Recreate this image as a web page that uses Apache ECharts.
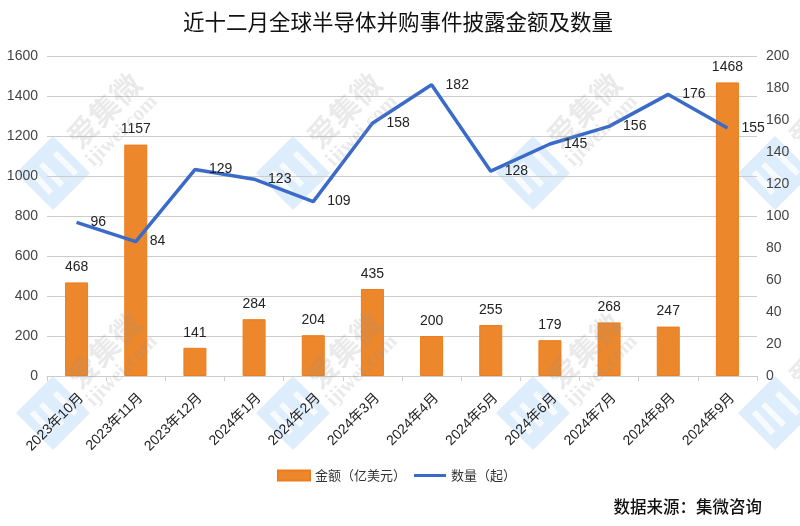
<!DOCTYPE html>
<html>
<head>
<meta charset="utf-8">
<style>html,body{margin:0;padding:0;background:#fff}#chart{width:800px;height:526px}</style>
<script src="https://cdn.jsdelivr.net/npm/echarts@6/dist/echarts.min.js"></script>
</head>
<body>
<div id="chart"></div>
<script>
var months = ['2023年10月','2023年11月','2023年12月','2024年1月','2024年2月','2024年3月','2024年4月','2024年5月','2024年6月','2024年7月','2024年8月','2024年9月'];
var amount = [468,1157,141,284,204,435,200,255,179,268,247,1468];
var count = [96,84,129,123,109,158,182,128,145,156,176,155];

var fontName = '"Liberation Sans","Noto Sans CJK SC",sans-serif';
var cjkName = '"Noto Sans CJK SC",sans-serif';

// white strokes inside the logo
function stroke(x1,y1,x2,y2){
	return {type:'line', shape:{x1:x1,y1:y1,x2:x2,y2:y2}, style:{stroke:'#fff',lineWidth:6,opacity:0.75}};
}

// watermark, repeated over the picture
var logoX = [53,293,533,775];
var logoY = [173,413];
var marks = [];
for(var r=0;r<logoY.length;r++){
	for(var c=0;c<logoX.length;c++){
		marks.push({
			type:'group', x:logoX[c], y:logoY[r], silent:true, z:100,
			children:[
				{type:'polygon', shape:{points:[[0,-37],[37,0],[0,37],[-37,0]]}, style:{fill:'rgba(190,220,248,0.5)'}},
				stroke(-21,-1,-2,20),
				stroke(-12,-9,9,12),
				stroke(2,-20,23,1)
			]
		});
		marks.push({
			type:'text', x:logoX[c]+51, y:logoY[r]-63, rotation:Math.PI/4, silent:true, z:100,
			style:{text:'爱集微', fill:'rgba(150,150,150,0.2)', font:'bold 30px "Noto Sans CJK SC"', align:'center', verticalAlign:'middle'}
		});
		marks.push({
			type:'text', x:logoX[c]+69, y:logoY[r]-42, rotation:Math.PI/4, silent:true, z:100,
			style:{text:'ijiwei.com', fill:'rgba(150,150,150,0.2)', font:'bold 21px "Liberation Serif"', align:'center', verticalAlign:'middle'}
		});
	}
}

var option = {
	animation:false,
	backgroundColor:'#fff',
	title:{
		text:'近十二月全球半导体并购事件披露金额及数量',
		left:178, top:6,
		textStyle:{fontFamily:cjkName, fontSize:21.5, fontWeight:'normal', color:'#111'}
	},
	grid:{left:47, right:43, top:56, bottom:150},
	legend:{
		top:464, left:272, itemGap:8, itemWidth:32, itemHeight:10,
		textStyle:{fontFamily:cjkName, fontSize:13, color:'#333'},
		data:[
			{name:'金额（亿美元）', icon:'rect'},
			{name:'数量（起）', icon:'path://M0,0 L0,0 M0,3.5 L32,3.5 L32,6.5 L0,6.5 Z M0,10 L0,10'}
		]
	},
	xAxis:{
		type:'category', data:months,
		axisLine:{lineStyle:{color:'#ccc',width:1}},
		axisTick:{show:true, alignWithLabel:false, length:5, lineStyle:{color:'#ccc'}},
		axisLabel:{interval:0, rotate:45, margin:15, verticalAlign:'top', fontFamily:fontName, fontSize:14, color:'#222'}
	},
	yAxis:[
		{type:'value', min:0, max:1600, interval:200,
			axisLine:{show:false}, axisTick:{show:false},
			splitLine:{lineStyle:{color:'#ccc',width:1}},
			axisLabel:{margin:9, formatter:function(v){return String(v);}, fontFamily:fontName, fontSize:14, color:'#444'}},
		{type:'value', min:0, max:200, interval:20,
			axisLine:{show:false}, axisTick:{show:false}, splitLine:{show:false},
			axisLabel:{margin:9, fontFamily:fontName, fontSize:14, color:'#444'}}
	],
	series:[
		{name:'金额（亿美元）', type:'bar', yAxisIndex:0, data:amount, barWidth:23,
			itemStyle:{color:'#EC872B', borderColor:'#EE7C1C', borderWidth:1},
			label:{show:true, position:'top', distance:8, fontFamily:fontName, fontSize:14, color:'#222'}},
		{name:'数量（起）', type:'line', yAxisIndex:1, data:count, symbol:'circle', symbolSize:0, showSymbol:true, smooth:false,
			lineStyle:{color:'#3A6BC9', width:3.5},
			itemStyle:{color:'#3A6BC9'},
			label:{show:true, position:'right', distance:14, fontFamily:fontName, fontSize:14, color:'#222'}}
	],
	graphic:marks.concat([
		{type:'text', right:38, top:498, z:101,
			style:{text:'数据来源：集微咨询', fill:'#111', font:'500 16.5px "Noto Sans CJK SC"'}}
	])
};

var chart = echarts.init(document.getElementById('chart'));
chart.setOption(option);
</script>
</body>
</html>
